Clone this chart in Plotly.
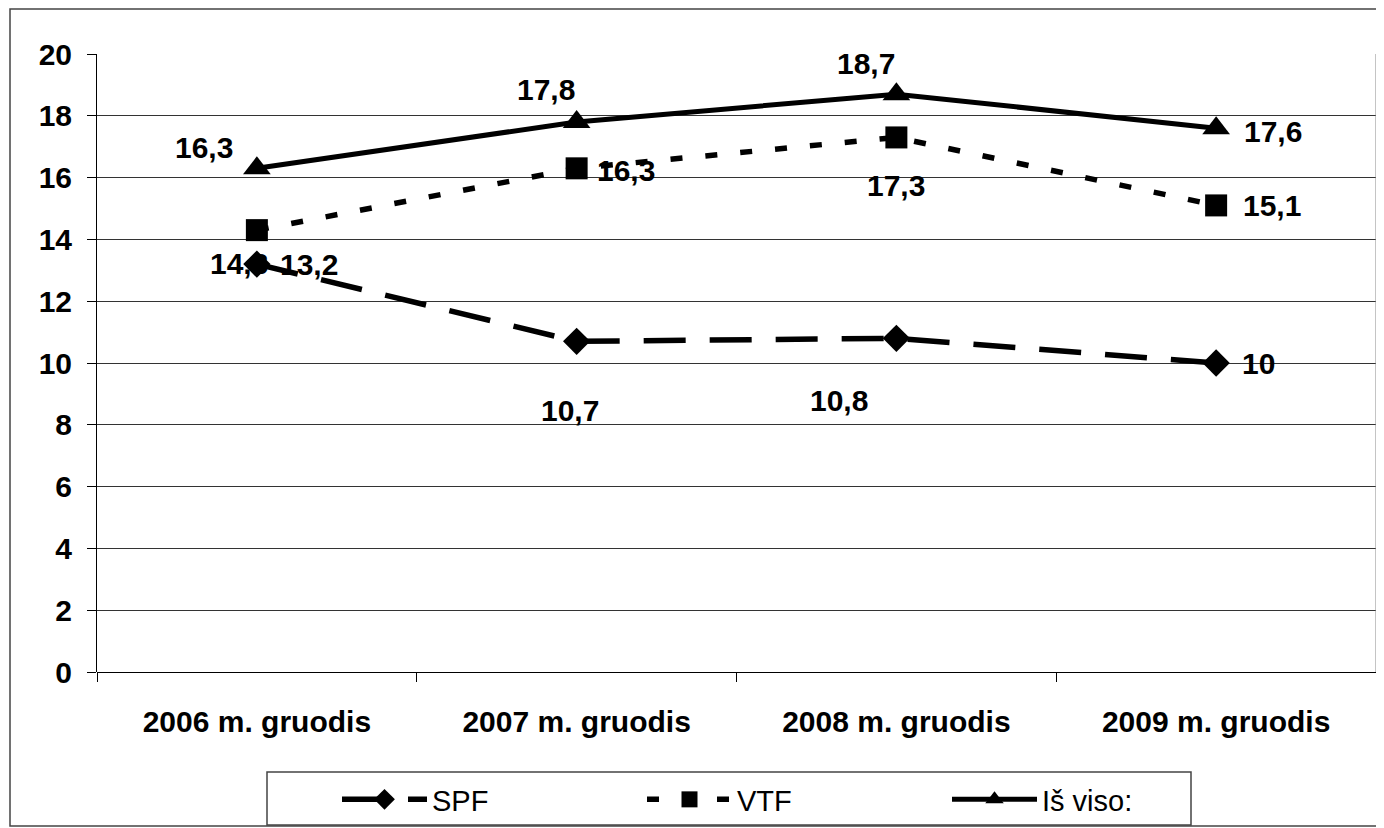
import plotly.graph_objects as go

categories = ["2006 m. gruodis", "2007 m. gruodis", "2008 m. gruodis", "2009 m. gruodis"]
spf = [13.2, 10.7, 10.8, 10.0]
vtf = [14.3, 16.3, 17.3, 15.1]
total = [16.3, 17.8, 18.7, 17.6]
series_names = ["SPF", "VTF", "Iš viso:"]
y_ticks = [0, 2, 4, 6, 8, 10, 12, 14, 16, 18, 20]

# label offsets (pixels, x right / y up) per point
spf_off = [(52, 0), (-7, -69), (-57, -62), (42, 0)]
vtf_off = [(-18, -33), (49, -2), (0, -48), (56, 0)]
tot_off = [(-53, 21), (-31, 32), (-30, 31), (57, -3)]

def fmt(v):
    s = ("%.1f" % v).replace(".", ",")
    if s.endswith(",0"):
        s = s[:-2]
    return s

FONT = "Liberation Sans, Arial, sans-serif"
fig = go.Figure()
fig.add_trace(go.Scatter(x=categories, y=spf, name=series_names[0], mode="lines+markers",
                         line=dict(color="black", width=5.5, dash="42px,24px"),
                         marker=dict(symbol="diamond", size=21, color="black")))
fig.add_trace(go.Scatter(x=categories, y=vtf, name=series_names[1], mode="lines+markers",
                         line=dict(color="black", width=5.5, dash="12px,23px"),
                         marker=dict(symbol="square", size=22, color="black")))
fig.add_trace(go.Scatter(x=categories, y=total, name=series_names[2], mode="lines+markers",
                         line=dict(color="black", width=5),
                         marker=dict(symbol="triangle-up", size=24, color="black")))

for vals, offs in ((spf, spf_off), (vtf, vtf_off), (total, tot_off)):
    for c, v, (dx, dy) in zip(categories, vals, offs):
        fig.add_annotation(x=c, y=v, text=fmt(v), showarrow=False, xshift=dx, yshift=dy,
                           font=dict(family=FONT, size=30, color="black", weight="bold"))

# page has an 8px body margin: figure sits at (8, 8)
OFF = 8
W, H = 1384 - OFF, 828 - OFF
L, R, T, B = 97 - OFF, 8, 54 - OFF, 820 - (672 - OFF)
pw, ph = W - L - R, H - T - B
def px(x):
    return (x - OFF - L) / pw
def py(y):
    return (H - B - (y - OFF)) / ph

fig.add_shape(type="rect", xref="paper", yref="paper", x0=px(10), x1=px(1377), y0=py(826), y1=py(9),
              line=dict(color="#444444", width=1.5), fillcolor="rgba(0,0,0,0)", layer="below")
fig.add_shape(type="line", xref="paper", yref="paper", x0=px(1376), x1=px(1376), y0=0, y1=1,
              line=dict(color="#888888", width=1))
# legend frame
fig.add_shape(type="rect", xref="paper", yref="paper", x0=px(267), x1=px(1191), y0=py(825), y1=py(772),
              line=dict(color="#444444", width=1.5), fillcolor="white", layer="below")

fig.update_layout(
    width=W, height=H, margin=dict(l=L, r=R, t=T, b=B, autoexpand=False),
    plot_bgcolor="white", paper_bgcolor="white",
    font=dict(family=FONT, color="black"),
    showlegend=True,
    legend=dict(orientation="h", x=px(337), xanchor="left", y=py(774), yanchor="top",
                borderwidth=0, bgcolor="rgba(0,0,0,0)",
                font=dict(family=FONT, size=29, color="black"),
                entrywidth=205, entrywidthmode="pixels", itemwidth=85,
                tracegroupgap=0),
    xaxis=dict(type="category", tickson="boundaries", ticks="outside", ticklen=9, tickcolor="black",
               showgrid=False, showline=False, range=[-0.5, 3.5], ticklabelstandoff=29,
               tickfont=dict(family=FONT, size=30, color="black", weight="bold")),
    yaxis=dict(range=[0, 20], tickvals=y_ticks, ticks="outside", ticklen=9, tickcolor="black",
               showgrid=True, gridcolor="#333333", gridwidth=1, ticklabelstandoff=9,
               showline=True, linecolor="black", linewidth=1,
               zeroline=True, zerolinecolor="black", zerolinewidth=1,
               tickfont=dict(family=FONT, size=30, color="black", weight="bold")),
)
fig.write_html("out.html")
